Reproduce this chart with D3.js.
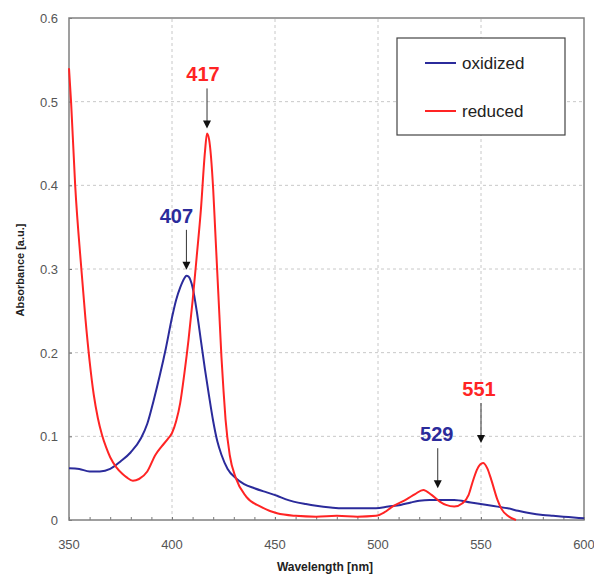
<!DOCTYPE html>
<html>
<head>
<meta charset="utf-8">
<script src="https://cdn.jsdelivr.net/npm/d3@7"></script>
<style>
  body { margin: 0; background: #fff; }
  svg { font-family: "Liberation Sans", Arial, sans-serif; }
</style>
</head>
<body>
<script>
// spectra
const oxWave = [350, 355, 360, 365, 370, 375, 380, 385, 388, 391, 394, 397, 400, 402, 404, 406, 407, 408, 410,
                412, 414, 416, 418, 420, 422, 424, 427, 431, 435, 440, 446, 451, 455, 459, 465, 470, 477, 483,
                490, 499, 505, 511, 516, 520, 525, 530, 537, 545, 553, 558, 563, 568, 574, 580, 585, 590, 595, 600];
const oxAbs  = [0.062, 0.061, 0.058, 0.058, 0.061, 0.070, 0.081, 0.098, 0.115, 0.142, 0.172, 0.205, 0.242, 0.263,
                0.278, 0.289, 0.292, 0.291, 0.278, 0.250, 0.215, 0.180, 0.148, 0.118, 0.094, 0.078, 0.061, 0.050,
                0.043, 0.038, 0.033, 0.029, 0.025, 0.022, 0.019, 0.017, 0.015, 0.014, 0.014, 0.014, 0.016, 0.018,
                0.021, 0.023, 0.024, 0.024, 0.024, 0.021, 0.018, 0.016, 0.014, 0.011, 0.008, 0.006, 0.005, 0.004,
                0.003, 0.002];

const redWave = [350, 351, 353, 356, 358, 360, 362, 364, 366, 368, 370, 373, 376, 378, 381, 384, 388, 392, 395,
                 398, 400, 402, 404, 406, 408, 410, 412, 414, 416, 417, 418, 420, 421, 422, 423, 424, 425, 426,
                 428, 431, 436, 443, 451, 460, 470, 480, 490, 499, 503, 507, 514, 518, 522, 526, 530, 533, 537,
                 541, 544, 546, 548, 551, 553, 555, 558, 560, 563, 567];
const redAbs  = [0.540, 0.500, 0.400, 0.300, 0.240, 0.190, 0.150, 0.122, 0.102, 0.087, 0.075, 0.063, 0.055, 0.051,
                 0.047, 0.049, 0.058, 0.078, 0.088, 0.097, 0.104, 0.118, 0.140, 0.175, 0.215, 0.262, 0.315, 0.370,
                 0.440, 0.462, 0.455, 0.395, 0.345, 0.295, 0.245, 0.195, 0.155, 0.120, 0.078, 0.050, 0.028, 0.016,
                 0.008, 0.005, 0.004, 0.005, 0.004, 0.005, 0.009, 0.016, 0.025, 0.031, 0.036, 0.030, 0.022, 0.018,
                 0.016, 0.020, 0.030, 0.046, 0.060, 0.068, 0.062, 0.048, 0.024, 0.013, 0.005, 0.000];

const seriesNames = ["oxidized", "reduced"];
const seriesColors = ["#2b2b9b", "#ff2424"];

// peak annotations: label, wavelength, absorbance at arrow tip, series
const peakLabels = ["407", "417", "529", "551"];
const peakWave   = [407, 417, 529, 550];
const peakTip    = [0.299, 0.468, 0.038, 0.092];
const peakSeries = [0, 1, 0, 1];

const xTicks = [350, 400, 450, 500, 550, 600];
const yTicks = [0, 0.1, 0.2, 0.3, 0.4, 0.5, 0.6];

const width = 594, height = 575;
const margin = {left: 69, right: 10, top: 18, bottom: 55};

const svg = d3.select("body").append("svg")
    .attr("width", width)
    .attr("height", height);

const x = d3.scaleLinear().domain([350, 600]).range([margin.left, 584]);
const y = d3.scaleLinear().domain([0, 0.6]).range([520, margin.top]);

// dashed grid
svg.append("g")
    .selectAll("line.gx")
    .data(xTicks.slice(1, -1))
    .enter().append("line")
        .attr("x1", d => x(d)).attr("x2", d => x(d))
        .attr("y1", y(0)).attr("y2", y(0.6))
        .attr("stroke", "#c8c8c8")
        .attr("stroke-dasharray", "3,3");

svg.append("g")
    .selectAll("line.gy")
    .data(yTicks.slice(1, -1))
    .enter().append("line")
        .attr("x1", x(350)).attr("x2", x(600))
        .attr("y1", d => y(d)).attr("y2", d => y(d))
        .attr("stroke", "#c8c8c8")
        .attr("stroke-dasharray", "3,3");

// axes
const xAxis = d3.axisBottom(x).tickValues(d3.range(350, 601, 10)).tickSize(-3).tickFormat("");
svg.append("g")
    .attr("transform", "translate(0," + y(0) + ")")
    .call(xAxis)
    .call(g => g.select(".domain").remove())
    .call(g => g.selectAll("line").attr("stroke", "#777"));

const yAxis = d3.axisLeft(y).tickValues(yTicks).tickSize(-3).tickFormat("");
svg.append("g")
    .attr("transform", "translate(" + x(350) + ",0)")
    .call(yAxis)
    .call(g => g.select(".domain").remove())
    .call(g => g.selectAll("line").attr("stroke", "#777"));

svg.append("g")
    .selectAll("text")
    .data(xTicks)
    .enter().append("text")
        .attr("x", d => x(d))
        .attr("y", 549)
        .attr("text-anchor", "middle")
        .attr("font-size", 13)
        .attr("fill", "#555")
        .text(d => d);

svg.append("g")
    .selectAll("text")
    .data(yTicks)
    .enter().append("text")
        .attr("x", 58)
        .attr("y", d => y(d) + 5)
        .attr("text-anchor", "end")
        .attr("font-size", 13)
        .attr("fill", "#555")
        .text(d => d === 0 ? "0" : d3.format(".1f")(d));

// frame
svg.append("rect")
    .attr("x", x(350)).attr("y", y(0.6))
    .attr("width", x(600) - x(350)).attr("height", y(0) - y(0.6))
    .attr("fill", "none")
    .attr("stroke", "#808080")
    .attr("stroke-width", 1.5);

svg.append("text")
    .attr("x", 325).attr("y", 571)
    .attr("text-anchor", "middle")
    .attr("font-size", 12).attr("font-weight", "bold")
    .attr("fill", "#222")
    .text("Wavelength [nm]");

svg.append("text")
    .attr("transform", "translate(24,270) rotate(-90)")
    .attr("text-anchor", "middle")
    .attr("font-size", 11).attr("font-weight", "bold")
    .attr("fill", "#222")
    .text("Absorbance [a.u.]");

// spectra
const line = d3.line()
    .x(d => x(d[0]))
    .y(d => y(d[1]))
    .curve(d3.curveMonotoneX);

const spectra = [d3.zip(oxWave, oxAbs), d3.zip(redWave, redAbs)];

svg.append("g")
    .selectAll("path")
    .data(spectra)
    .enter().append("path")
        .attr("d", line)
        .attr("fill", "none")
        .attr("stroke", (d, i) => seriesColors[i])
        .attr("stroke-width", 2);

// peak arrows
const labelShift = [-10, -4, -1, -2];
peakLabels.forEach(function(lab, i) {
    const px = x(peakWave[i]), py = y(peakTip[i]);
    svg.append("line")
        .attr("x1", px).attr("x2", px)
        .attr("y1", py - 40).attr("y2", py - 7)
        .attr("stroke", "#333")
        .attr("stroke-width", 1);
    svg.append("path")
        .attr("d", "M" + (px - 4) + "," + (py - 8) + "L" + (px + 4) + "," + (py - 8) + "L" + px + "," + py + "Z")
        .attr("fill", "#111");
    svg.append("text")
        .attr("x", px + labelShift[i])
        .attr("y", py - 47)
        .attr("text-anchor", "middle")
        .attr("font-size", 20).attr("font-weight", "bold")
        .attr("fill", seriesColors[peakSeries[i]])
        .text(lab);
});

// legend
const legend = svg.append("g");
legend.append("rect")
    .attr("x", 397).attr("y", 38)
    .attr("width", 168).attr("height", 97)
    .attr("fill", "#fff")
    .attr("stroke", "#444")
    .attr("stroke-width", 1.2);

seriesNames.forEach(function(name, i) {
    legend.append("line")
        .attr("x1", 425).attr("x2", 456)
        .attr("y1", 63 + i * 48).attr("y2", 63 + i * 48)
        .attr("stroke", seriesColors[i])
        .attr("stroke-width", 2);
    legend.append("text")
        .attr("x", 462).attr("y", 69 + i * 48)
        .attr("font-size", 17)
        .attr("fill", "#222")
        .text(name);
});
</script>
</body>
</html>
